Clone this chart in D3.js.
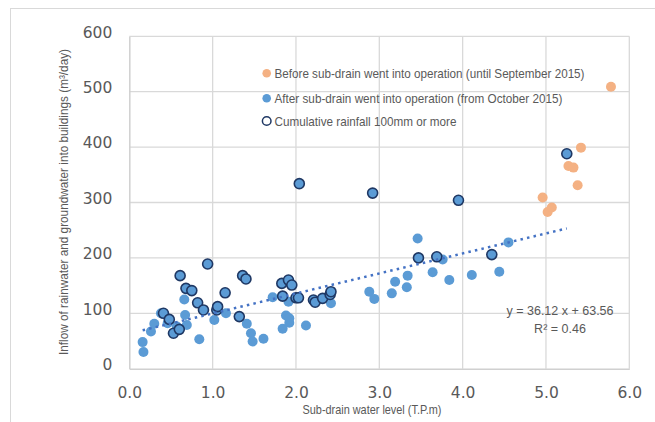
<!DOCTYPE html>
<html><head><meta charset="utf-8">
<script src="https://cdn.jsdelivr.net/npm/d3@7"></script>
<style>
html,body{margin:0;padding:0;background:#fff;}
svg{display:block;}
</style></head>
<body>
<script>
// ---- data ----
const beforeX = [4.96, 5.02, 5.07, 5.27, 5.33, 5.38, 5.42, 5.78];
const beforeY = [309, 283, 291, 366, 363, 331, 399, 509];

const afterX = [0.16,0.17,0.26,0.30,0.38,0.46,0.57,0.66,0.67,0.69,0.84,1.02,1.16,1.41,1.46,1.48,1.61,1.72,1.84,1.88,1.91,1.92,1.92,2.12,2.42,2.88,2.94,3.15,3.19,3.33,3.34,3.46,3.64,3.76,3.84,4.11,4.44,4.55];
const afterY = [48,30,67,81,100,82,76,125,97,79,53,88,100,81,64,49,54,129,72,96,121,91,83,78,118,139,126,136,157,147,168,235,174,197,160,169,175,228];

const rainX = [0.41,0.48,0.53,0.60,0.61,0.68,0.75,0.82,0.89,0.94,1.05,1.06,1.15,1.32,1.36,1.40,1.83,1.84,1.91,1.95,2.00,2.03,2.04,2.21,2.23,2.32,2.41,2.42,2.92,3.47,3.69,3.95,4.35,5.25];
const rainY = [100,89,64,71,168,145,141,119,106,189,106,112,137,94,168,162,154,131,160,151,128,128,334,124,120,127,134,139,317,200,202,304,206,388];

const xTicks = [0,1,2,3,4,5,6];
const yTicks = [0,100,200,300,400,500,600];
const trendSlope = 36.12, trendIntercept = 63.56;
const legendLabels = [
  "Before sub-drain went into operation (until September 2015)",
  "After sub-drain went into operation (from October 2015)",
  "Cumulative rainfall 100mm or more"
];
const xTitle = "Sub-drain water level (T.P.m)";
const yTitle = "Inflow of rainwater and groundwater into buildings (m³/day)";

// ---- layout ----
const W = 655, H = 422;
const svg = d3.select("body").append("svg").attr("width", W).attr("height", H);
const x = d3.scaleLinear().domain([0, 6]).range([129.3, 629.3]);
const y = d3.scaleLinear().domain([0, 600]).range([368.7, 36.3]);

const grey = "#595959", grid = "#d9d9d9";
const blue = "#5b9bd5", orange = "#f4b183", navy = "#1f3864";
const sans = "'Liberation Sans',Arial,sans-serif";

// outer border
svg.append("rect").attr("x", 10.5).attr("y", 8.5).attr("width", 700).attr("height", 500)
  .attr("fill", "none").attr("stroke", grid).attr("stroke-width", 1);

// gridlines
svg.append("g").selectAll("line").data(yTicks.slice(1)).join("line")
  .attr("x1", x(0)).attr("x2", x(6)).attr("y1", d => y(d)).attr("y2", d => y(d))
  .attr("stroke", grid).attr("stroke-width", 1.3);
svg.append("g").selectAll("line").data(xTicks.slice(1)).join("line")
  .attr("y1", y(0)).attr("y2", y(600)).attr("x1", d => x(d)).attr("x2", d => x(d))
  .attr("stroke", grid).attr("stroke-width", 1.3);

// axes via d3 axis
const xAxis = svg.append("g").attr("transform", `translate(0,${y(0)})`)
  .call(d3.axisBottom(x).tickValues(xTicks).tickFormat(d3.format(".1f")).tickSize(0).tickPadding(18));
xAxis.select(".domain").attr("stroke", "#d0d0d0").attr("stroke-width", 1.5);
xAxis.selectAll("text").attr("fill", grey).attr("font-size", "15.5px")
  .attr("font-family", "'DejaVu Sans',Verdana,sans-serif");

const yAxis = svg.append("g").attr("transform", `translate(${x(0)},0)`)
  .call(d3.axisLeft(y).tickValues(yTicks).tickFormat(d3.format("d")).tickSize(0).tickPadding(17));
yAxis.select(".domain").attr("stroke", "#d0d0d0").attr("stroke-width", 1.5);
yAxis.selectAll("text").attr("fill", grey).attr("font-size", "15.5px")
  .attr("font-family", "'DejaVu Sans',Verdana,sans-serif").attr("dy", "0.05em");

// axis titles (condensed like Arial Narrow)
svg.append("text").attr("x", 372).attr("y", 414).attr("text-anchor", "middle")
  .attr("font-family", sans).attr("font-size", "13px").attr("fill", grey)
  .attr("textLength", 139).attr("lengthAdjust", "spacingAndGlyphs").text(xTitle);
svg.append("text").attr("transform", "translate(68,202) rotate(-90)").attr("text-anchor", "middle")
  .attr("font-family", sans).attr("font-size", "13px").attr("fill", grey)
  .attr("textLength", 306).attr("lengthAdjust", "spacingAndGlyphs").text(yTitle);

// points
const r = 5;
svg.append("g").selectAll("circle").data(d3.range(afterX.length)).join("circle")
  .attr("cx", i => x(afterX[i])).attr("cy", i => y(afterY[i])).attr("r", r).attr("fill", blue);
svg.append("g").selectAll("circle").data(d3.range(beforeX.length)).join("circle")
  .attr("cx", i => x(beforeX[i])).attr("cy", i => y(beforeY[i])).attr("r", r).attr("fill", orange);
svg.append("g").selectAll("circle").data(d3.range(rainX.length)).join("circle")
  .attr("cx", i => x(rainX[i])).attr("cy", i => y(rainY[i])).attr("r", r)
  .attr("fill", blue).attr("stroke", navy).attr("stroke-width", 1.6);

// trendline (after series)
const allAfterX = afterX.concat(rainX);
const tx0 = d3.min(allAfterX), tx1 = d3.max(allAfterX);
svg.append("line")
  .attr("x1", x(tx0)).attr("y1", y(trendSlope * tx0 + trendIntercept))
  .attr("x2", x(tx1)).attr("y2", y(trendSlope * tx1 + trendIntercept))
  .attr("stroke", "#4472c4").attr("stroke-width", 2.5).attr("stroke-dasharray", "2.5 4.2");

// equation
const eq = svg.append("text").attr("font-family", sans)
  .attr("font-size", "12.5px").attr("fill", grey).attr("text-anchor", "middle");
eq.append("tspan").attr("x", 560).attr("y", 315).text(`y = ${trendSlope.toFixed(2)} x + ${trendIntercept.toFixed(2)}`);
eq.append("tspan").attr("x", 560).attr("y", 332.5).text("R² = 0.46");

// legend
const lg = svg.append("g");
const ly = [73.3, 98.3, 121];
const lw = [310, 288, 182];
const lfill = [orange, blue, "#fff"];
const lstroke = ["none", "none", navy];
legendLabels.forEach((t, i) => {
  lg.append("circle").attr("cx", 266.7).attr("cy", ly[i]).attr("r", 4.3)
    .attr("fill", lfill[i]).attr("stroke", lstroke[i]).attr("stroke-width", 1.5);
  lg.append("text").attr("x", 274.5).attr("y", ly[i] + 4.8)
    .attr("font-family", sans).attr("font-size", "13.5px").attr("fill", grey)
    .attr("textLength", lw[i]).attr("lengthAdjust", "spacingAndGlyphs").text(t);
});
</script>
</body></html>
